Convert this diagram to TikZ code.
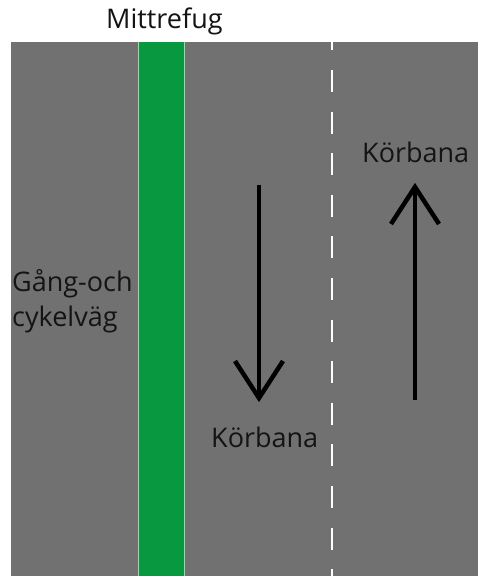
\documentclass[tikz,border=0pt]{standalone}
\usepackage{fontspec}
\setmainfont{Open Sans}
\definecolor{roadgray}{RGB}{113,113,113}
\definecolor{refugegreen}{RGB}{8,152,64}
\definecolor{inkdark}{RGB}{20,20,20}
\begin{document}
\begin{tikzpicture}[x=1pt,y=1pt,
  lbl/.style={font=\fontsize{27}{32}\selectfont, text=inkdark, inner sep=0pt, anchor=base west},
  shaft/.style={draw=black, line width=4.5pt},
  barb/.style={draw=black, line width=4.5pt, line join=miter, line cap=butt}]
\useasboundingbox (0,0) rectangle (478,576);
\fill[white] (0,0) rectangle (478,576);
% road surface
\fill[roadgray] (11,0) rectangle (478,534);
% central refuge strip
\fill[refugegreen] (138,0) rectangle (185,534);
\draw[white!60!refugegreen, line width=0.8pt] (138.4,0) -- (138.4,534) (184.6,0) -- (184.6,534);
% lane divider
\coordinate (lt) at (331.7,534);
\coordinate (lb) at (331.7,0);
\draw[white, line width=2pt, dash pattern=on 22pt off 19.6pt, dash phase=13.6pt] (lt) -- (lb);
% labels
\node[lbl] (mitt) at (106,547) {Mittrefug};
\node[lbl] (gang) at (12,284) {Gång-och};
\node[lbl] (cykel) at (12,249) {cykelväg};
\node[lbl] (kb1) at (211,128) {Körbana};
\node[lbl] (kb2) at (362,413) {Körbana};
% southbound arrow
\coordinate (dtop) at (259,391);
\coordinate (dtip) at (259,178);
\draw[shaft] (dtop) -- (dtip);
\draw[barb] ([xshift=-24pt,yshift=37pt]dtip) -- (dtip) -- ([xshift=24pt,yshift=37pt]dtip);
% northbound arrow
\coordinate (ubot) at (415,176);
\coordinate (utip) at (415,389);
\draw[shaft] (ubot) -- (utip);
\draw[barb] ([xshift=-24pt,yshift=-37pt]utip) -- (utip) -- ([xshift=24pt,yshift=-37pt]utip);
\end{tikzpicture}
\end{document}
